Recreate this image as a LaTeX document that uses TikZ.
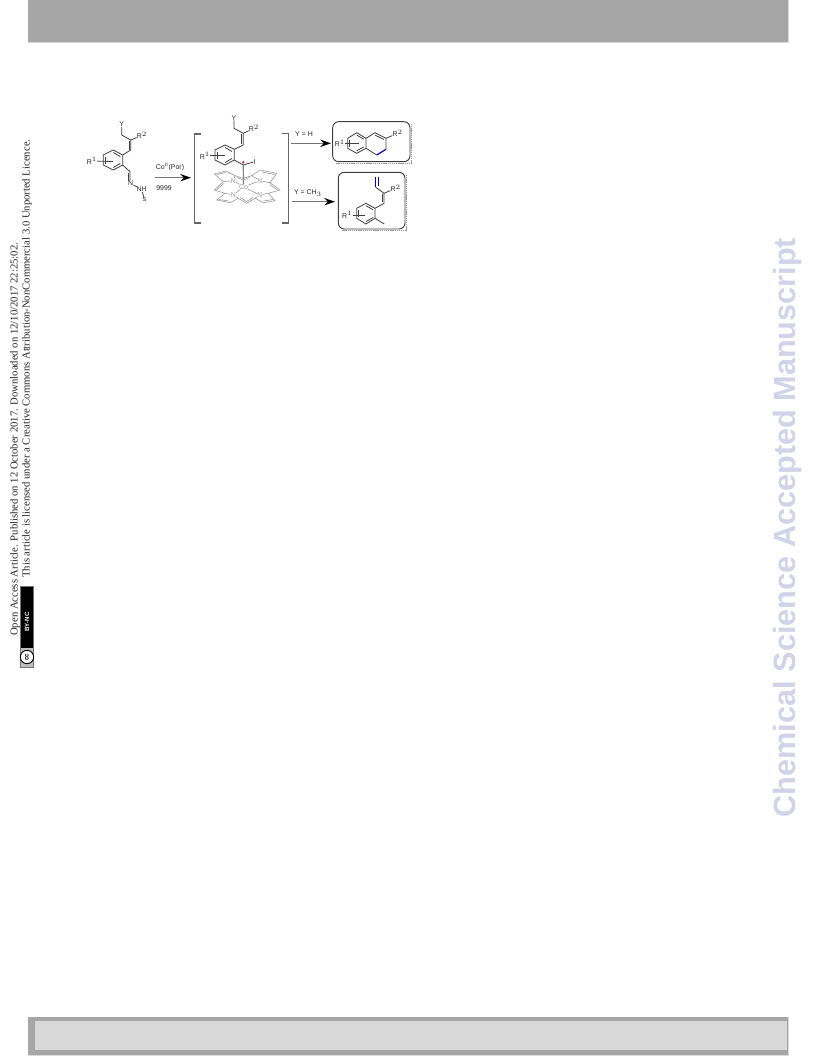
\documentclass[tikz,border=0pt]{standalone}
\usepackage{fontspec}
\setmainfont{Liberation Serif}
\setsansfont{Liberation Sans}
\usetikzlibrary{arrows.meta}
\usetikzlibrary{positioning}
\usetikzlibrary{calc}
\definecolor{bandgray}{HTML}{A6A6A6}
\definecolor{innergray}{HTML}{D8D8D8}
\definecolor{markcolor}{HTML}{D2D2E8}
\definecolor{porgray}{HTML}{9A9A9A}
\begin{document}
\begin{tikzpicture}[x=0.75pt,y=-0.75pt,font=\sffamily,
bond/.style={line width=0.6pt,black!75},
blue bond/.style={line width=0.9pt,blue!80!black},
por/.style={line width=0.45pt,porgray},
lab/.style={inner sep=0pt,font=\sffamily\fontsize{5.2}{6}\selectfont,text=black!85},
reaction/.style={line width=1pt,black!55,-{Stealth[length=8pt,width=5.5pt,black]}},
bracket/.style={line width=1pt,black!60},
product/.style={draw=black!75,line width=0.7pt,rounded corners=4.5pt},
boxshadow/.style={line width=1pt,black!40,dash pattern=on 1pt off 0.6pt},
sidenote/.style={rotate=90,inner sep=0pt,font=\rmfamily\fontsize{8}{9}\selectfont,text=black!85}]
\useasboundingbox (0,0) rectangle (816,1056);
\fill[white] (0,0) rectangle (816,1056);
% page bands
\fill[black!15] (27.5,0) rectangle (788.5,43);
\fill[bandgray] (28,0) rectangle (788,42);
\fill[black!15] (27.5,1016.5) rectangle (788.5,1056);
\fill[bandgray] (28,1017) rectangle (788,1055);
\fill[innergray] (35,1021) rectangle (787,1050);
\node[rotate=90,inner sep=0pt,text=markcolor,font=\sffamily\bfseries\fontsize{23}{26}\selectfont] (watermark) at (788,527.5) {Chemical Science Accepted Manuscript};
% side notes
\node[sidenote,anchor=west] (note1) at (15,636) {Open Access Article. Published on 12 October 2017. Downloaded on 12/10/2017 22:25:02.};
\node[sidenote,anchor=west] (note2) at (27,578) {This article is licensed under a Creative Commons Attribution-NonCommercial 3.0 Unported Licence.};
\fill[black!55] (20,586) rectangle (34,668);
\fill[black] (21,587) rectangle (33,648);
\fill[black!25] (21,648) rectangle (33,667);
\node[rotate=90,text=white,inner sep=0pt,font=\sffamily\bfseries\fontsize{4.6}{5}\selectfont] (badgetext) at (27,622) {BY-NC};
\node[circle,draw=black,fill=white,line width=0.7pt,minimum size=10pt,inner sep=0pt,rotate=90,font=\sffamily\bfseries\fontsize{4.8}{5}\selectfont] (cc) at (27,657) {cc};
% substrate
\node[lab] (y1) at (121.7,124.3) {Y};
\node[lab] (r1) at (142,135.5) {R$^{2}$};
\node[lab] (ra) at (92,161) {R$^{1}$};
\node[lab] (n1) at (130.7,183.5) {N};
\node[lab] (nh) at (141.7,189.5) {NH};
\node[lab] (ts) at (144.5,200) {s};
\coordinate (a1) at (121.7,135);
\coordinate (a2) at (130.7,140);
\coordinate (a3) at (130.7,150);
\coordinate (b1) at (122.7,155);
\coordinate (b2) at (122.7,165);
\coordinate (b3) at (113.3,170);
\coordinate (b4) at (103.3,165);
\coordinate (b5) at (103.3,155);
\coordinate (b6) at (113.3,150);
\coordinate (a4) at (130,171.7);
\coordinate (a5) at (130,180.5);
\draw[bond] (y1)--(a1)--(a2)--(a3)--(b1)--(b2)--(b3)--(b4)--(b5)--(b6)--(b1);
\draw[bond] (a2)--(r1);
\draw[bond] (a2)++(-1.8,1)--++(0,9);
\draw[bond] (b2)--(a4)--(a5);
\draw[bond] (a4)++(-1.8,1)--++(0,8);
\draw[bond] (ra)--(113,161.5);
\draw[bond] (b6)++(0,2.5)--++(7,4);
\draw[bond] (b3)++(0,-2.5)--++(7,-4);
\draw[bond] (b5)++(2,1.5)--++(0,7);
\draw[bond] (n1)--(nh);
\draw[bond] (nh)--(ts);
\coordinate (from1) at (155,177.7);
\coordinate (to1) at (191,177.7);
\draw[reaction] (from1)--(to1);
\node[lab] (cat) at (170,167.3) {Co$^{\mathrm{II}}$(Por)};
\node[lab] (yield) at (164,187.7) {9999};
% intermediate
\draw[bracket] (200.7,134)--(194.7,134)--(194.7,223)--(200.7,223);
\draw[bracket] (282,133.5)--(288.3,133.5)--(288.3,223)--(282,223);
\node[lab] (y2) at (234,117.7) {Y};
\node[lab] (r2) at (254,128.3) {R$^{2}$};
\node[lab] (rb) at (205,155.7) {R$^{1}$};
\node[lab] (i) at (254.5,161.7) {I};
\coordinate (c1) at (234,128.3);
\coordinate (c2) at (243.3,133.3);
\coordinate (c3) at (243.3,145);
\coordinate (d1) at (234.3,149.3);
\coordinate (d2) at (234.3,160);
\coordinate (d3) at (225,165);
\coordinate (d4) at (215,160);
\coordinate (d5) at (215,150);
\coordinate (d6) at (225,145);
\coordinate (c4) at (243.3,165);
\draw[bond] (y2)--(c1)--(c2)--(c3)--(d1)--(d2)--(d3)--(d4)--(d5)--(d6)--(d1);
\draw[bond] (c2)--(r2);
\draw[bond] (c2)++(-1.8,1)--++(0,10);
\draw[bond] (d2)--(c4)--(i);
\draw[bond] (rb)--(225,155.7);
\draw[bond] (d6)++(0,2.5)--++(7,4);
\draw[bond] (d3)++(0,-2.5)--++(7,-4);
\draw[bond] (d5)++(2,1.5)--++(0,7);
% porphyrin
\node[lab,text=porgray] (co) at (243.5,187) {Co};
\node[lab,text=porgray] (n2) at (233.3,180.7) {N};
\node[lab,text=porgray] (n3) at (260,180.7) {N};
\node[lab,text=porgray] (n4) at (233.3,195) {N};
\node[lab,text=porgray] (n5) at (260,195) {N};
\draw[bond,line width=0.9pt,black!50] (c4)--(co);
\fill[red!85!black] (243.3,162.3) circle (1.2);
\draw[por] (co)--(n2) (co)--(n3) (co)--(n4) (co)--(n5);
\draw[por] (n2)--(223.3,181.7)--(214.3,174)--(225.7,171)--(235,175.7)--(n2);
\draw[por] (n3)--(251.7,175.7)--(260,170)--(276.7,173.3)--(270,182.7)--(n3);
\draw[por] (n5)--(268.3,193.3)--(275,200.7)--(263.3,202.7)--(255,198.3)--(n5);
\draw[por] (n4)--(238.3,198.3)--(230,202.7)--(216.7,200)--(225,193.3)--(n4);
\draw[por] (235,175.7)--(243.3,178.3)--(251.7,175.7);
\draw[por] (270,182.7)--(280,190)--(268.3,193.3);
\draw[por] (255,198.3)--(246.7,203.3)--(238.3,198.3);
\draw[por] (225,193.3)--(214.3,190)--(223.3,181.7);
\draw[por] (217,174.5)--(225.5,172.5) (262,172)--(274.5,174.5);
\draw[por] (273,199.5)--(263.5,201) (228.5,201)--(219,199.5);
\draw[por] (237,177.5)--(243.3,180)--(249.5,177.5);
\draw[por] (240,197.5)--(246.7,201.5)--(253,197.5);
\draw[por] (216.5,190)--(223.5,183.5) (277.5,190)--(270,184.5);
% branches
\coordinate (from2) at (291,143.3);
\coordinate (to2) at (331,143.3);
\draw[reaction] (from2)--(to2);
\node[lab] (cond1) at (304,134) {Y = H};
\coordinate (from3) at (292.3,201.7);
\coordinate (to3) at (335,201.7);
\draw[reaction] (from3)--(to3);
\node[lab] (cond2) at (308,192.7) {Y = CH$_{3}$};
% product boxes
\draw[boxshadow] (411.5,124)--(411.5,163.2)--(336,163.2);
\draw[boxshadow] (406.5,175)--(406.5,230.5)--(342,230.5);
\draw[product] (332.7,121.7) rectangle (410,161.7);
\draw[product] (338.3,172.3) rectangle (405,229);
% first product
\node[lab] (rc) at (340,143.3) {R$^{1}$};
\node[lab] (rd) at (397.7,133.3) {R$^{2}$};
\coordinate (e1) at (356.7,132.7);
\coordinate (e2) at (366,138.3);
\coordinate (e3) at (366,148.3);
\coordinate (e4) at (356.7,153.3);
\coordinate (e5) at (347.7,148.3);
\coordinate (e6) at (347.7,138.3);
\coordinate (f1) at (375,132.7);
\coordinate (f2) at (386,138.3);
\coordinate (f3) at (386,149.3);
\coordinate (f4) at (376.7,155);
\draw[bond] (e1)--(e2)--(e3)--(e4)--(e5)--(e6)--cycle;
\draw[bond] (e2)--(f1)--(f2)--(f3);
\draw[bond] (f4)--(e3);
\draw[bond] (f2)--(rd);
\draw[bond] (f1)++(0,2.4)--(384,139.5);
\draw[bond] (e1)++(0,2.4)--++(7,4);
\draw[bond] (e4)++(0,-2.4)--++(7,-4);
\draw[bond] (e5)++(2,-1.5)--++(0,-7);
\draw[bond] (rc)--(359,143.3);
\draw[blue bond] (f3)--(f4);
% second product
\node[lab] (re) at (347.3,215) {R$^{1}$};
\node[lab] (rf) at (395.7,188.3) {R$^{2}$};
\coordinate (g1) at (366,203.3);
\coordinate (g2) at (375,208.3);
\coordinate (g3) at (375,218.3);
\coordinate (g4) at (366,224);
\coordinate (g5) at (356.7,218.3);
\coordinate (g6) at (356.7,208.3);
\coordinate (h1) at (384.3,224);
\coordinate (h2) at (384,203.3);
\coordinate (h3) at (384,193.3);
\coordinate (h4) at (375.7,187.3);
\coordinate (h5) at (375.7,176.7);
\draw[bond] (g1)--(g2)--(g3)--(g4)--(g5)--(g6)--cycle;
\draw[bond] (g3)--(h1);
\draw[bond] (g2)--(h2)--(h3)--(rf);
\draw[bond] (h2)++(-1.8,-1)--++(0,-8);
\draw[bond] (h3)--(h4);
\draw[bond] (g1)++(0,2.4)--++(7,4);
\draw[bond] (g4)++(0,-2.4)--++(7,-4);
\draw[bond] (g5)++(2,-1.5)--++(0,-7);
\draw[bond] (re)--(365,215);
\draw[blue bond] (h4)--(h5);
\draw[blue bond] ($(h4)+(2.6,-1.5)$)--($(h5)+(2.6,0)$);
\end{tikzpicture}
\end{document}
